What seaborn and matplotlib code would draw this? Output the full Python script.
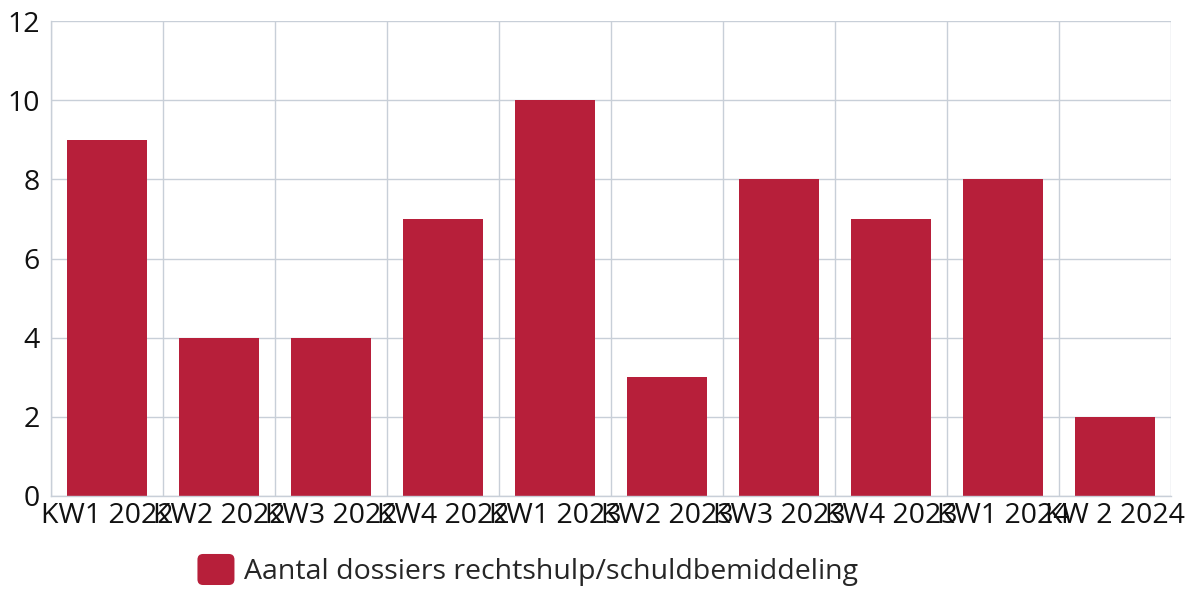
import numpy as np
import pandas as pd
import matplotlib
matplotlib.use("Agg")
import matplotlib.pyplot as plt
import seaborn as sns
from matplotlib.patches import Patch, FancyBboxPatch
from matplotlib.legend_handler import HandlerPatch
from matplotlib.ticker import FixedLocator

categories = ["KW1 2022", "KW2 2022", "KW3 2022", "KW4 2022", "KW1 2023",
              "KW2 2023", "KW3 2023", "KW4 2023", "KW1 2024", "KW 2 2024"]
values = [9, 4, 4, 7, 10, 3, 8, 7, 8, 2]
series_name = "Aantal dossiers rechtshulp/schuldbemiddeling"
bar_color = "#B71F3A"
grid_color = "#C8CFD8"

sns.set_style("white")
plt.rcParams['font.family'] = ['Open Sans', 'DejaVu Sans']

df = pd.DataFrame({"cat": categories, "val": values})

fig = plt.figure(figsize=(11.98, 5.91), dpi=100)
ax = fig.add_axes([51/1198, 1-496/591, 1120/1198, 475/591])
sns.barplot(data=df, x="cat", y="val", color=bar_color, width=0.72,
            saturation=1, ax=ax, edgecolor="none")

ax.set_xlim(-0.5, len(categories) - 0.5)
ax.set_ylim(0, 12)
ax.set_yticks(range(0, 13, 2))
ax.xaxis.set_minor_locator(FixedLocator(np.arange(-0.5, len(categories), 1.0)))
ax.grid(True, which="minor", axis="x", color=grid_color, linewidth=1)
ax.grid(True, which="major", axis="y", color=grid_color, linewidth=1)
ax.grid(False, which="major", axis="x")
ax.set_axisbelow(True)
ax.tick_params(axis="both", which="both", length=0, labelsize=20.5, labelcolor="#111111")
ax.tick_params(axis="x", pad=4)
ax.tick_params(axis="y", pad=8)
ax.set_xlabel("")
ax.set_ylabel("")
for s in ["top", "right"]:
    ax.spines[s].set_visible(False)
for s in ["left", "bottom"]:
    ax.spines[s].set_color(grid_color)
    ax.spines[s].set_linewidth(1)


class RoundedHandler(HandlerPatch):
    def create_artists(self, legend, orig_handle, xdescent, ydescent,
                       width, height, fontsize, trans):
        r = min(width, height) * 0.18
        p = FancyBboxPatch((-xdescent + r, -ydescent + r), width - 2 * r, height - 2 * r,
                           boxstyle=f"round,pad={r}", facecolor=orig_handle.get_facecolor(),
                           edgecolor="none", transform=trans)
        return [p]


handle = Patch(facecolor=bar_color, edgecolor="none", label=series_name)
fig.legend(handles=[handle], loc="center", bbox_to_anchor=(528/1198, 1-570/591),
           frameon=False, fontsize=20.5, handlelength=1.3, handleheight=1.3,
           handletextpad=0.35, handler_map={Patch: RoundedHandler()})

fig.savefig("out.png", dpi=100)
